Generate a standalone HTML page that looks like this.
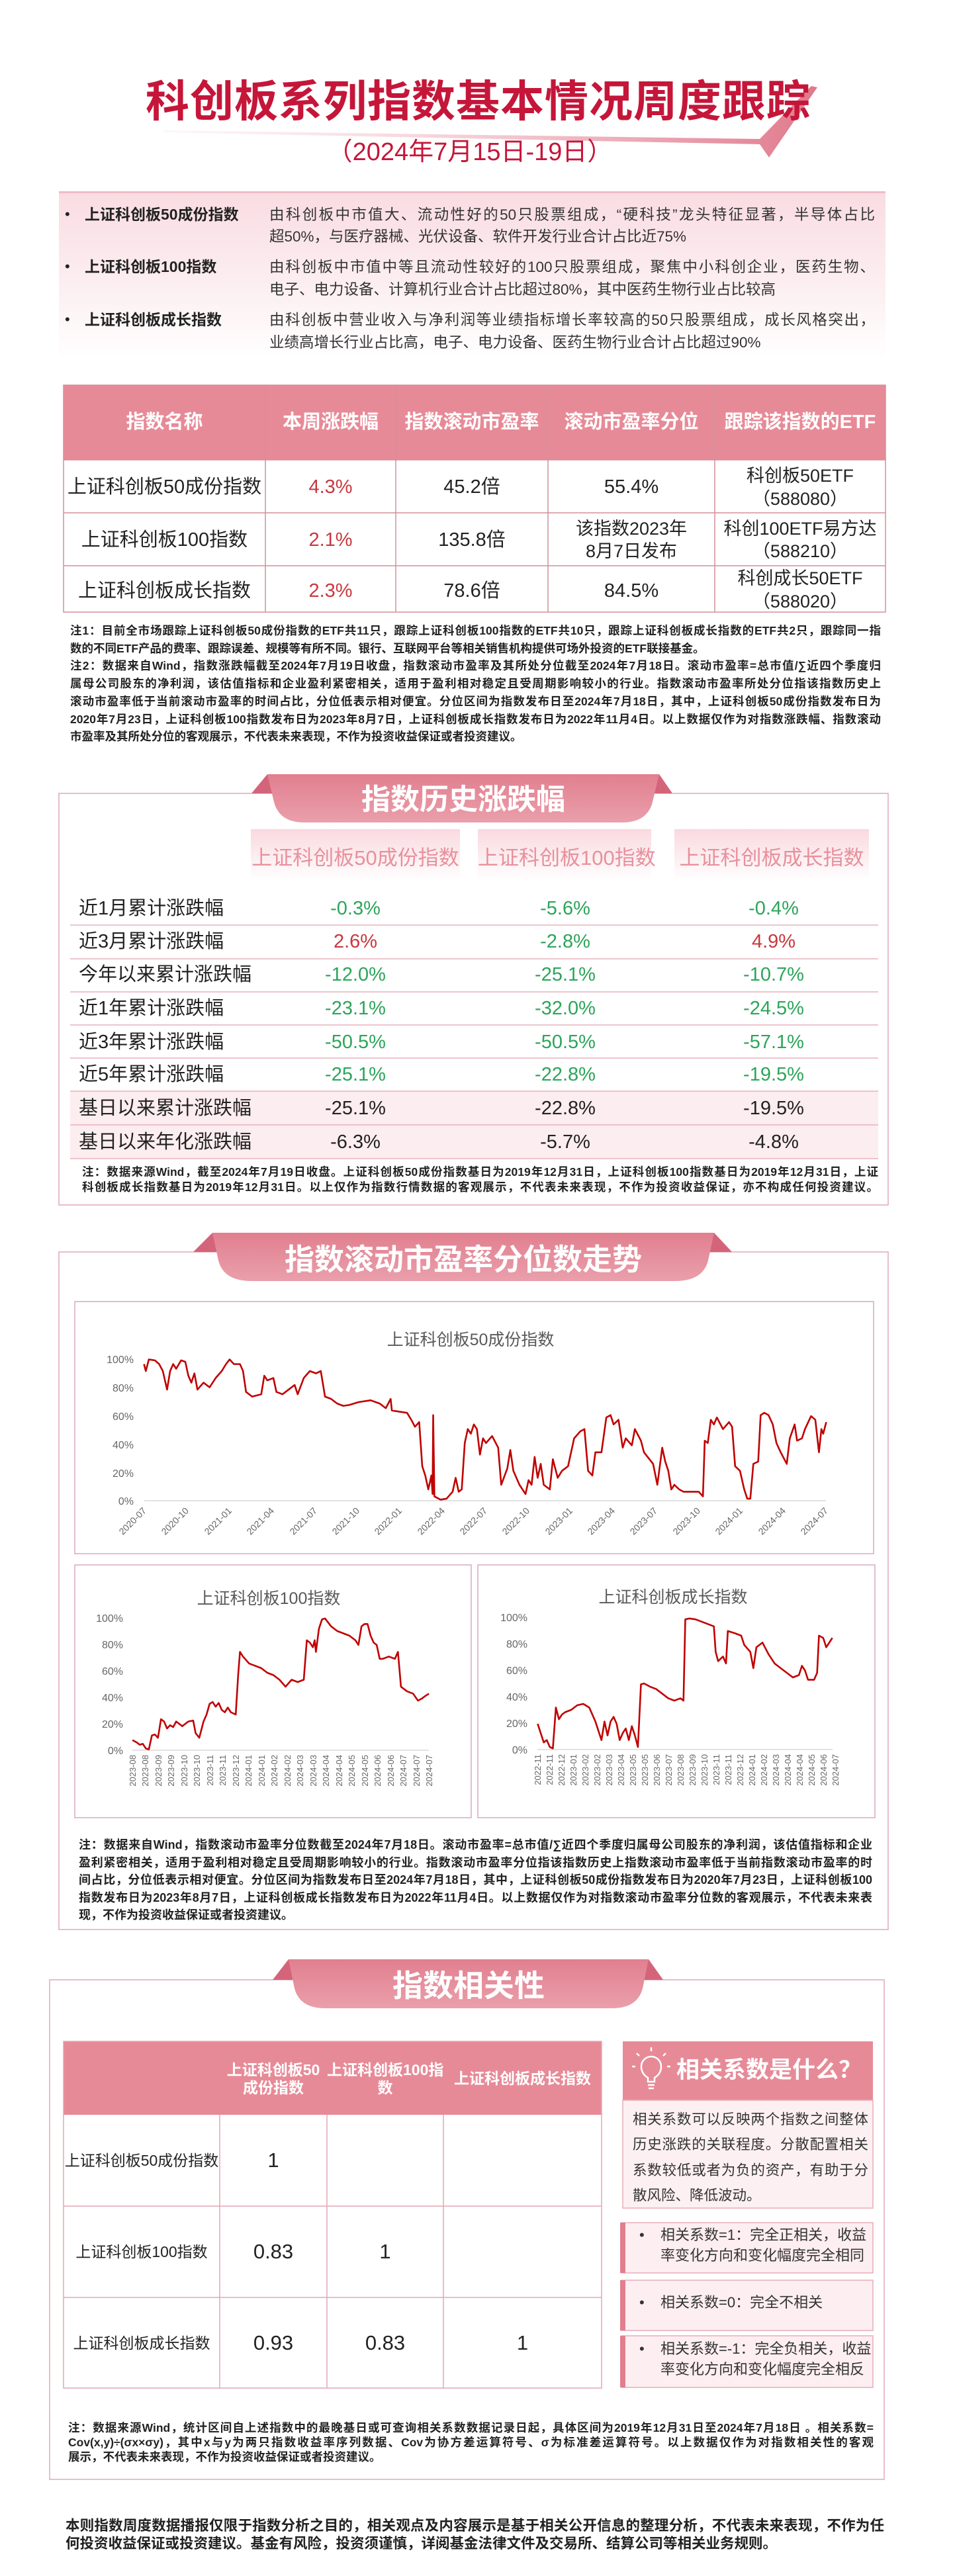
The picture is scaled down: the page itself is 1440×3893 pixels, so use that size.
<!DOCTYPE html>
<html><head><meta charset="utf-8">
<style>
*{margin:0;padding:0;box-sizing:border-box}
body{width:1440px;height:3893px;position:relative;background:#fff;font-family:"Liberation Sans","Noto Sans CJK SC",sans-serif;color:#222;overflow:hidden}
.a{position:absolute;white-space:nowrap}
.c{text-align:center}
.j{text-align:justify;text-align-last:justify}
.n{font-weight:bold;color:#222}
svg{position:absolute;left:0;top:0}
</style></head><body>
<svg width="1440" height="3893" viewBox="0 0 1440 3893">
<defs>
<linearGradient id="sw" x1="0" x2="1"><stop offset="0" stop-color="#f6d3da" stop-opacity="0.2"/><stop offset="1" stop-color="#e0788b"/></linearGradient>
<linearGradient id="band" x1="0" y1="0" x2="0" y2="1"><stop offset="0" stop-color="#f9dce2"/><stop offset="0.6" stop-color="#fcf0f2"/><stop offset="1" stop-color="#fff"/></linearGradient>
<linearGradient id="tab" x1="0" y1="0" x2="0" y2="1"><stop offset="0" stop-color="#e17f8f"/><stop offset="1" stop-color="#ea9fab"/></linearGradient>
<linearGradient id="ch" x1="0" y1="0" x2="0" y2="1"><stop offset="0" stop-color="#f9d9df"/><stop offset="1" stop-color="#fff"/></linearGradient>
</defs>
<polygon points="248,197 1148,210 1226,130 1235,132 1162,238 1148,218 248,200" fill="url(#sw)"/>
<rect x="89" y="290" width="1249" height="252" fill="url(#band)"/>
<rect x="89" y="289" width="1249" height="3" fill="#f0bcc6"/>
<rect x="96" y="582" width="1242" height="113" fill="#e78a97"/>
<g stroke="#d48f9b" stroke-width="1.5" fill="none">
<rect x="96" y="582" width="1242" height="343"/>
<line x1="96" y1="775" x2="1338" y2="775"/><line x1="96" y1="855" x2="1338" y2="855"/>
<line x1="96" y1="695" x2="1338" y2="695"/>
<line x1="401" y1="582" x2="401" y2="925"/><line x1="598" y1="582" x2="598" y2="925"/><line x1="828" y1="582" x2="828" y2="925"/><line x1="1080" y1="582" x2="1080" y2="925"/>
</g>
<rect x="89" y="1199" width="1253" height="622" fill="none" stroke="#e2a9b6" stroke-width="1.5"/>
<polygon points="380,1199 404,1170 412,1199" fill="#d4647a"/><polygon points="996,1170 1016,1199 988,1199" fill="#d4647a"/>
<path d="M404,1170 H996 L986,1212 Q978,1243 940,1243 H460 Q422,1243 414,1212 Z" fill="url(#tab)"/>
<rect x="379" y="1253" width="316" height="78" fill="url(#ch)"/>
<rect x="722" y="1253" width="262" height="78" fill="url(#ch)"/>
<rect x="1019" y="1253" width="294" height="78" fill="url(#ch)"/>
<rect x="106" y="1649" width="1221" height="102" fill="#fcedf0"/>
<g stroke="#e6b2bc" stroke-width="1.5">
<line x1="106" y1="1398" x2="1327" y2="1398"/><line x1="106" y1="1449" x2="1327" y2="1449"/><line x1="106" y1="1499" x2="1327" y2="1499"/><line x1="106" y1="1549" x2="1327" y2="1549"/><line x1="106" y1="1599" x2="1327" y2="1599"/><line x1="106" y1="1649" x2="1327" y2="1649"/><line x1="106" y1="1700" x2="1327" y2="1700"/><line x1="106" y1="1751" x2="1327" y2="1751"/>
</g>
<rect x="89" y="1892" width="1253" height="1024" fill="none" stroke="#e2a9b6" stroke-width="1.5"/>
<polygon points="292,1892 321,1863 329,1892" fill="#d4647a"/><polygon points="1079,1863 1106,1892 1071,1892" fill="#d4647a"/>
<path d="M321,1863 H1079 L1070,1905 Q1062,1936 1020,1936 H380 Q338,1936 330,1905 Z" fill="url(#tab)"/>
<g fill="none" stroke="#d9a8c2" stroke-width="1.5">
<rect x="113" y="1967" width="1207" height="381"/>
<rect x="113" y="2365" width="599" height="382"/>
<rect x="722" y="2365" width="600" height="382"/>
</g>
<g stroke="#d0d0d0" stroke-width="1.2">
<line x1="218" y1="2268" x2="1248" y2="2268"/>
<line x1="200" y1="2645" x2="648" y2="2645"/>
<line x1="812" y1="2644" x2="1258" y2="2644"/>
</g>
<g transform="matrix(0.918 0 0 0.7015 0 1830)" fill="none" stroke="#c00000" stroke-width="2.6" stroke-linejoin="round">
<polyline vector-effect="non-scaling-stroke" points="237,330 240,345 245,320 255,322 262,330 268,345 275,385 280,345 285,330 290,340 298,322 305,325 310,355 315,370 320,350 325,385 335,370 345,380 355,360 365,345 372,330 378,320 385,330 395,330 400,345 405,390 415,400 430,395 435,355 440,365 450,360 455,390 465,395 475,385 485,375 490,395 500,360 510,345 520,350 528,345 535,400 545,405 555,415 565,420 575,418 590,412 610,408 625,415 635,425 643,405 645,430 655,432 670,435 677,450 683,465 690,455 695,550 700,570 705,600 710,570 712,610 713,440 715,615 725,622 735,620 745,605 750,575 755,605 760,600 765,500 770,470 775,480 780,460 785,470 790,525 795,490 800,500 810,485 820,510 825,590 835,555 840,515 845,560 855,590 865,610 870,580 875,590 880,530 885,575 890,545 895,590 905,600 910,535 918,575 925,560 935,550 945,490 955,475 962,470 968,560 975,570 980,520 990,520 998,445 1005,440 1010,460 1018,450 1025,510 1030,490 1040,505 1045,470 1055,495 1060,520 1075,545 1082,590 1090,510 1095,540 1100,560 1105,600 1110,590 1118,600 1125,605 1140,605 1150,605 1157,615 1160,495 1165,500 1170,450 1175,460 1180,445 1190,470 1200,455 1205,465 1210,550 1218,560 1225,600 1230,620 1235,620 1240,545 1248,540 1252,440 1258,435 1265,440 1272,460 1278,500 1285,520 1295,545 1300,490 1308,460 1312,495 1320,490 1325,470 1335,442 1342,450 1348,520 1352,470 1355,480 1360,455"/>
<polyline vector-effect="non-scaling-stroke" points="218,1140 225,1145 230,1150 235,1148 240,1158 245,1160 250,1130 255,1128 260,1135 265,1095 270,1100 275,1115 280,1108 285,1112 290,1100 300,1110 310,1100 318,1098 322,1125 328,1135 335,1100 340,1085 345,1062 350,1058 355,1068 360,1060 365,1075 370,1080 375,1070 380,1080 388,1085 392,1000 395,950 400,960 410,975 420,980 430,985 440,995 450,1000 460,1010 470,1025 480,1010 490,1015 500,1010 505,925 510,930 515,940 518,925 520,950 525,900 530,880 535,878 545,895 555,905 565,910 575,915 585,925 590,935 595,895 600,890 605,890 610,915 615,930 620,935 625,965 630,965 640,960 650,965 655,950 660,1025 670,1035 680,1040 688,1055 695,1050 700,1045 706,1040"/>
<polyline vector-effect="non-scaling-stroke" points="885,1105 890,1125 895,1145 900,1140 905,1155 910,1158 915,1070 920,1095 925,1085 930,1080 940,1075 950,1065 960,1062 970,1070 975,1085 980,1100 985,1120 990,1140 995,1100 1000,1130 1005,1100 1010,1090 1015,1105 1020,1140 1025,1125 1030,1115 1035,1140 1040,1110 1045,1130 1050,1155 1055,1020 1060,1018 1070,1025 1080,1030 1090,1040 1100,1050 1110,1055 1120,1050 1125,1055 1128,880 1135,878 1145,880 1155,885 1165,890 1175,895 1178,950 1182,970 1190,960 1195,975 1198,905 1210,910 1220,915 1225,935 1235,950 1240,985 1245,940 1255,930 1265,955 1275,975 1285,985 1295,995 1305,1005 1315,1000 1320,980 1325,990 1330,1010 1340,1010 1345,995 1348,915 1355,920 1360,940 1365,930 1370,920"/>
</g>
<g font-family="Liberation Sans" font-size="14" fill="#666">
<g text-anchor="end">
<text transform="translate(222,2284) rotate(-45)">2020-07</text><text transform="translate(286,2284) rotate(-45)">2020-10</text><text transform="translate(351,2284) rotate(-45)">2021-01</text><text transform="translate(415,2284) rotate(-45)">2021-04</text><text transform="translate(480,2284) rotate(-45)">2021-07</text><text transform="translate(544,2284) rotate(-45)">2021-10</text><text transform="translate(608,2284) rotate(-45)">2022-01</text><text transform="translate(673,2284) rotate(-45)">2022-04</text><text transform="translate(737,2284) rotate(-45)">2022-07</text><text transform="translate(801,2284) rotate(-45)">2022-10</text><text transform="translate(866,2284) rotate(-45)">2023-01</text><text transform="translate(930,2284) rotate(-45)">2023-04</text><text transform="translate(994,2284) rotate(-45)">2023-07</text><text transform="translate(1059,2284) rotate(-45)">2023-10</text><text transform="translate(1123,2284) rotate(-45)">2024-01</text><text transform="translate(1188,2284) rotate(-45)">2024-04</text><text transform="translate(1252,2284) rotate(-45)">2024-07</text>
</g>
<g text-anchor="end" font-size="16">
<text x="202" y="2060">100%</text><text x="202" y="2103">80%</text><text x="202" y="2146">60%</text><text x="202" y="2189">40%</text><text x="202" y="2232">20%</text><text x="202" y="2274">0%</text>
<text x="186" y="2451">100%</text><text x="186" y="2491">80%</text><text x="186" y="2531">60%</text><text x="186" y="2571">40%</text><text x="186" y="2611">20%</text><text x="186" y="2651">0%</text>
<text x="797" y="2450">100%</text><text x="797" y="2490">80%</text><text x="797" y="2530">60%</text><text x="797" y="2570">40%</text><text x="797" y="2610">20%</text><text x="797" y="2650">0%</text>
</g>
<g text-anchor="end" font-size="13">
<text transform="translate(205,2652) rotate(-90)">2023-08</text><text transform="translate(224,2652) rotate(-90)">2023-08</text><text transform="translate(244,2652) rotate(-90)">2023-09</text><text transform="translate(263,2652) rotate(-90)">2023-09</text><text transform="translate(283,2652) rotate(-90)">2023-10</text><text transform="translate(302,2652) rotate(-90)">2023-10</text><text transform="translate(322,2652) rotate(-90)">2023-11</text><text transform="translate(341,2652) rotate(-90)">2023-11</text><text transform="translate(361,2652) rotate(-90)">2023-12</text><text transform="translate(380,2652) rotate(-90)">2024-01</text><text transform="translate(400,2652) rotate(-90)">2024-01</text><text transform="translate(419,2652) rotate(-90)">2024-02</text><text transform="translate(439,2652) rotate(-90)">2024-02</text><text transform="translate(458,2652) rotate(-90)">2024-03</text><text transform="translate(478,2652) rotate(-90)">2024-03</text><text transform="translate(497,2652) rotate(-90)">2024-04</text><text transform="translate(517,2652) rotate(-90)">2024-04</text><text transform="translate(536,2652) rotate(-90)">2024-05</text><text transform="translate(556,2652) rotate(-90)">2024-05</text><text transform="translate(575,2652) rotate(-90)">2024-06</text><text transform="translate(595,2652) rotate(-90)">2024-06</text><text transform="translate(614,2652) rotate(-90)">2024-07</text><text transform="translate(634,2652) rotate(-90)">2024-07</text><text transform="translate(653,2652) rotate(-90)">2024-07</text>
<text transform="translate(817,2651) rotate(-90)">2022-11</text><text transform="translate(835,2651) rotate(-90)">2022-11</text><text transform="translate(853,2651) rotate(-90)">2022-12</text><text transform="translate(871,2651) rotate(-90)">2023-01</text><text transform="translate(889,2651) rotate(-90)">2023-02</text><text transform="translate(907,2651) rotate(-90)">2023-02</text><text transform="translate(925,2651) rotate(-90)">2023-03</text><text transform="translate(943,2651) rotate(-90)">2023-04</text><text transform="translate(961,2651) rotate(-90)">2023-05</text><text transform="translate(979,2651) rotate(-90)">2023-05</text><text transform="translate(997,2651) rotate(-90)">2023-06</text><text transform="translate(1015,2651) rotate(-90)">2023-07</text><text transform="translate(1033,2651) rotate(-90)">2023-08</text><text transform="translate(1051,2651) rotate(-90)">2023-09</text><text transform="translate(1069,2651) rotate(-90)">2023-10</text><text transform="translate(1087,2651) rotate(-90)">2023-11</text><text transform="translate(1105,2651) rotate(-90)">2023-11</text><text transform="translate(1123,2651) rotate(-90)">2023-12</text><text transform="translate(1141,2651) rotate(-90)">2024-01</text><text transform="translate(1159,2651) rotate(-90)">2024-02</text><text transform="translate(1177,2651) rotate(-90)">2024-03</text><text transform="translate(1195,2651) rotate(-90)">2024-04</text><text transform="translate(1213,2651) rotate(-90)">2024-04</text><text transform="translate(1231,2651) rotate(-90)">2024-05</text><text transform="translate(1249,2651) rotate(-90)">2024-06</text><text transform="translate(1267,2651) rotate(-90)">2024-07</text>
</g>
</g>
<rect x="75" y="2992" width="1261" height="755" fill="none" stroke="#e2a9b6" stroke-width="1.5"/>
<polygon points="412,2992 436,2961 444,2992" fill="#d4647a"/><polygon points="980,2961 1002,2992 972,2992" fill="#d4647a"/>
<path d="M436,2961 H980 L971,3005 Q963,3035 925,3035 H491 Q453,3035 445,3005 Z" fill="url(#tab)"/>
<rect x="96" y="3085" width="813" height="111" fill="#e78a97"/>
<g stroke="#e3a6b3" stroke-width="1.5" fill="none">
<rect x="96" y="3085" width="813" height="524"/>
<line x1="96" y1="3334" x2="909" y2="3334"/><line x1="96" y1="3472" x2="909" y2="3472"/>
<line x1="332" y1="3196" x2="332" y2="3609"/><line x1="494" y1="3196" x2="494" y2="3609"/><line x1="670" y1="3196" x2="670" y2="3609"/>
</g>
<rect x="941" y="3085" width="378" height="89" fill="#e78a97"/>
<rect x="941" y="3174" width="378" height="163" fill="#fdf0f2" stroke="#e7adb8" stroke-width="1.5"/>
<rect x="939" y="3359" width="380" height="76" fill="#fdeef1" stroke="#e7adb8" stroke-width="1.5"/>
<rect x="939" y="3446" width="380" height="76" fill="#fdeef1" stroke="#e7adb8" stroke-width="1.5"/>
<rect x="939" y="3530" width="380" height="78" fill="#fdeef1" stroke="#e7adb8" stroke-width="1.5"/>
<rect x="937" y="3359" width="8" height="76" fill="#e17f8f"/><rect x="937" y="3446" width="8" height="76" fill="#e17f8f"/><rect x="937" y="3530" width="8" height="78" fill="#e17f8f"/>
<g stroke="#fff" stroke-width="2.5" fill="none">
<path d="M979,3146 v-6 q-10,-6 -10,-17 a15,15 0 1 1 30,0 q0,11 -10,17 v6 z"/>
<line x1="979" y1="3151" x2="989" y2="3151"/><line x1="980" y1="3156" x2="988" y2="3156"/>
<line x1="984" y1="3100" x2="984" y2="3094"/><line x1="966" y1="3107" x2="962" y2="3103"/><line x1="1002" y1="3107" x2="1006" y2="3103"/><line x1="960" y1="3123" x2="955" y2="3123"/><line x1="1008" y1="3123" x2="1013" y2="3123"/>
</g>
</svg>

<div class="a c" style="left:220px;width:1000px;top:110px;font-size:66px;line-height:86px;font-weight:bold;color:#c5163a;letter-spacing:1px">科创板系列指数基本情况周度跟踪</div>
<div class="a c" style="left:460px;width:500px;top:205px;font-size:38px;line-height:50px;color:#c5163a">（2024年7月15日-19日）</div>

<div class="a" style="left:98px;top:308px;font-size:22px;line-height:32px">•</div>
<div class="a" style="left:98px;top:387px;font-size:22px;line-height:32px">•</div>
<div class="a" style="left:98px;top:467px;font-size:22px;line-height:32px">•</div>
<div class="a" style="left:128px;top:308px;font-size:23px;line-height:32px;font-weight:bold">上证科创板50成份指数</div>
<div class="a" style="left:128px;top:387px;font-size:23px;line-height:32px;font-weight:bold">上证科创板100指数</div>
<div class="a" style="left:128px;top:467px;font-size:23px;line-height:32px;font-weight:bold">上证科创板成长指数</div>
<div style="position:absolute;left:407px;top:308px;width:915px;font-size:22.5px;line-height:33px;color:#333">
<div class="j">由科创板中市值大、流动性好的50只股票组成，“硬科技”龙头特征显著，半导体占比</div><div>超50%，与医疗器械、光伏设备、软件开发行业合计占比近75%</div></div>
<div style="position:absolute;left:407px;top:387px;width:915px;font-size:22.5px;line-height:34px;color:#333">
<div class="j">由科创板中市值中等且流动性较好的100只股票组成，聚焦中小科创企业，医药生物、</div><div>电子、电力设备、计算机行业合计占比超过80%，其中医药生物行业占比较高</div></div>
<div style="position:absolute;left:407px;top:467px;width:915px;font-size:22.5px;line-height:34px;color:#333">
<div class="j">由科创板中营业收入与净利润等业绩指标增长率较高的50只股票组成，成长风格突出，</div><div>业绩高增长行业占比高，电子、电力设备、医药生物行业合计占比超过90%</div></div>

<div style="position:absolute;left:96px;top:582px;width:1242px;height:113px;font-size:29px;font-weight:bold;color:#fff;line-height:113px">
<div class="a c" style="left:0;width:305px">指数名称</div><div class="a c" style="left:305px;width:197px">本周涨跌幅</div><div class="a c" style="left:502px;width:230px">指数滚动市盈率</div><div class="a c" style="left:732px;width:252px">滚动市盈率分位</div><div class="a c" style="left:984px;width:258px">跟踪该指数的ETF</div></div>
<div style="position:absolute;left:96px;top:695px;width:1242px;font-size:29px;color:#222">
<div class="a c" style="left:0;width:305px;top:23px;line-height:36px">上证科创板50成份指数</div>
<div class="a c" style="left:305px;width:197px;top:23px;line-height:36px;color:#c8383e">4.3%</div>
<div class="a c" style="left:502px;width:230px;top:23px;line-height:36px">45.2倍</div>
<div class="a c" style="left:732px;width:252px;top:23px;line-height:36px">55.4%</div>
<div class="a c" style="left:984px;width:258px;top:7px;line-height:35px;font-size:27px">科创板50ETF<br>（588080）</div>
<div class="a c" style="left:0;width:305px;top:103px;line-height:36px">上证科创板100指数</div>
<div class="a c" style="left:305px;width:197px;top:103px;line-height:36px;color:#c8383e">2.1%</div>
<div class="a c" style="left:502px;width:230px;top:103px;line-height:36px">135.8倍</div>
<div class="a c" style="left:732px;width:252px;top:87px;line-height:34px;font-size:27px">该指数2023年<br>8月7日发布</div>
<div class="a c" style="left:984px;width:258px;top:87px;line-height:34px;font-size:27px">科创100ETF易方达<br>（588210）</div>
<div class="a c" style="left:0;width:305px;top:180px;line-height:36px">上证科创板成长指数</div>
<div class="a c" style="left:305px;width:197px;top:180px;line-height:36px;color:#c8383e">2.3%</div>
<div class="a c" style="left:502px;width:230px;top:180px;line-height:36px">78.6倍</div>
<div class="a c" style="left:732px;width:252px;top:180px;line-height:36px">84.5%</div>
<div class="a c" style="left:984px;width:258px;top:162px;line-height:35px;font-size:27px">科创成长50ETF<br>（588020）</div>
</div>

<div class="n" style="position:absolute;left:106px;top:940px;width:1225px;font-size:17.5px;line-height:26.7px">
<div class="j">注1：目前全市场跟踪上证科创板50成份指数的ETF共11只，跟踪上证科创板100指数的ETF共10只，跟踪上证科创板成长指数的ETF共2只，跟踪同一指</div>
<div>数的不同ETF产品的费率、跟踪误差、规模等有所不同。银行、互联网平台等相关销售机构提供可场外投资的ETF联接基金。</div>
<div class="j">注2：数据来自Wind，指数涨跌幅截至2024年7月19日收盘，指数滚动市盈率及其所处分位截至2024年7月18日。滚动市盈率=总市值/∑近四个季度归</div>
<div class="j">属母公司股东的净利润，该估值指标和企业盈利紧密相关，适用于盈利相对稳定且受周期影响较小的行业。指数滚动市盈率所处分位指该指数历史上</div>
<div class="j">滚动市盈率低于当前滚动市盈率的时间占比，分位低表示相对便宜。分位区间为指数发布日至2024年7月18日，其中，上证科创板50成份指数发布日为</div>
<div class="j">2020年7月23日，上证科创板100指数发布日为2023年8月7日，上证科创板成长指数发布日为2022年11月4日。以上数据仅作为对指数涨跌幅、指数滚动</div>
<div>市盈率及其所处分位的客观展示，不代表未来表现，不作为投资收益保证或者投资建议。</div>
</div>

<div class="a c" style="left:404px;width:592px;top:1180px;font-size:44px;line-height:58px;font-weight:bold;color:#fff">指数历史涨跌幅</div>
<div class="a c" style="left:379px;width:316px;top:1275px;font-size:31px;line-height:44px;color:#e8909c">上证科创板50成份指数</div>
<div class="a c" style="left:722px;width:262px;top:1275px;font-size:31px;line-height:44px;color:#e8909c">上证科创板100指数</div>
<div class="a c" style="left:1019px;width:294px;top:1275px;font-size:31px;line-height:44px;color:#e8909c">上证科创板成长指数</div>
<div style="position:absolute;left:0;top:0;font-size:29px;line-height:40px">
<div class="a" style="left:119px;top:1353px">近1月累计涨跌幅</div>
<div class="a" style="left:119px;top:1403px">近3月累计涨跌幅</div>
<div class="a" style="left:119px;top:1453px">今年以来累计涨跌幅</div>
<div class="a" style="left:119px;top:1504px">近1年累计涨跌幅</div>
<div class="a" style="left:119px;top:1555px">近3年累计涨跌幅</div>
<div class="a" style="left:119px;top:1604px">近5年累计涨跌幅</div>
<div class="a" style="left:119px;top:1655px">基日以来累计涨跌幅</div>
<div class="a" style="left:119px;top:1706px">基日以来年化涨跌幅</div>
</div>
<div style="position:absolute;left:0;top:0;font-size:29px;line-height:40px;color:#2ca55a">
<div class="a c" style="left:437px;width:200px;top:1353px">-0.3%</div><div class="a c" style="left:754px;width:200px;top:1353px">-5.6%</div><div class="a c" style="left:1069px;width:200px;top:1353px">-0.4%</div>
<div class="a c" style="left:437px;width:200px;top:1403px;color:#c8383e">2.6%</div><div class="a c" style="left:754px;width:200px;top:1403px">-2.8%</div><div class="a c" style="left:1069px;width:200px;top:1403px;color:#c8383e">4.9%</div>
<div class="a c" style="left:437px;width:200px;top:1453px">-12.0%</div><div class="a c" style="left:754px;width:200px;top:1453px">-25.1%</div><div class="a c" style="left:1069px;width:200px;top:1453px">-10.7%</div>
<div class="a c" style="left:437px;width:200px;top:1504px">-23.1%</div><div class="a c" style="left:754px;width:200px;top:1504px">-32.0%</div><div class="a c" style="left:1069px;width:200px;top:1504px">-24.5%</div>
<div class="a c" style="left:437px;width:200px;top:1555px">-50.5%</div><div class="a c" style="left:754px;width:200px;top:1555px">-50.5%</div><div class="a c" style="left:1069px;width:200px;top:1555px">-57.1%</div>
<div class="a c" style="left:437px;width:200px;top:1604px">-25.1%</div><div class="a c" style="left:754px;width:200px;top:1604px">-22.8%</div><div class="a c" style="left:1069px;width:200px;top:1604px">-19.5%</div>
<div class="a c" style="left:437px;width:200px;top:1655px;color:#222">-25.1%</div><div class="a c" style="left:754px;width:200px;top:1655px;color:#222">-22.8%</div><div class="a c" style="left:1069px;width:200px;top:1655px;color:#222">-19.5%</div>
<div class="a c" style="left:437px;width:200px;top:1706px;color:#222">-6.3%</div><div class="a c" style="left:754px;width:200px;top:1706px;color:#222">-5.7%</div><div class="a c" style="left:1069px;width:200px;top:1706px;color:#222">-4.8%</div>
</div>
<div class="n" style="position:absolute;left:124px;top:1760px;width:1203px;font-size:17.5px;line-height:23px">
<div class="j">注：数据来源Wind，截至2024年7月19日收盘。上证科创板50成份指数基日为2019年12月31日，上证科创板100指数基日为2019年12月31日，上证</div>
<div class="j">科创板成长指数基日为2019年12月31日。以上仅作为指数行情数据的客观展示，不代表未来表现，不作为投资收益保证，亦不构成任何投资建议。</div>
</div>

<div class="a c" style="left:321px;width:758px;top:1874px;font-size:45px;line-height:60px;font-weight:bold;color:#fff">指数滚动市盈率分位数走势</div>
<div class="a c" style="left:511px;width:400px;top:2008px;font-size:25px;line-height:34px;color:#595959">上证科创板50成份指数</div>
<div class="a c" style="left:256px;width:300px;top:2399px;font-size:25px;line-height:34px;color:#595959">上证科创板100指数</div>
<div class="a c" style="left:867px;width:300px;top:2397px;font-size:25px;line-height:34px;color:#595959">上证科创板成长指数</div>
<div class="n" style="position:absolute;left:119px;top:2775px;width:1199px;font-size:18px;line-height:26.6px">
<div class="j">注：数据来自Wind，指数滚动市盈率分位数截至2024年7月18日。滚动市盈率=总市值/∑近四个季度归属母公司股东的净利润，该估值指标和企业</div>
<div class="j">盈利紧密相关，适用于盈利相对稳定且受周期影响较小的行业。指数滚动市盈率分位指该指数历史上指数滚动市盈率低于当前指数滚动市盈率的时</div>
<div class="j">间占比，分位低表示相对便宜。分位区间为指数发布日至2024年7月18日，其中，上证科创板50成份指数发布日为2020年7月23日，上证科创板100</div>
<div class="j">指数发布日为2023年8月7日，上证科创板成长指数发布日为2022年11月4日。以上数据仅作为对指数滚动市盈率分位数的客观展示，不代表未来表</div>
<div>现，不作为投资收益保证或者投资建议。</div>
</div>

<div class="a c" style="left:436px;width:544px;top:2972px;font-size:46px;line-height:58px;font-weight:bold;color:#fff">指数相关性</div>
<div style="position:absolute;left:0;top:0;font-size:23px;font-weight:bold;color:#fff;line-height:27px">
<div class="a c" style="left:332px;width:162px;top:3115px">上证科创板50<br>成份指数</div>
<div class="a c" style="left:494px;width:176px;top:3115px">上证科创板100指<br>数</div>
<div class="a c" style="left:670px;width:239px;top:3128px">上证科创板成长指数</div>
</div>
<div style="position:absolute;left:0;top:0;font-size:23px;line-height:34px">
<div class="a c" style="left:96px;width:236px;top:3248px">上证科创板50成份指数</div>
<div class="a c" style="left:96px;width:236px;top:3386px">上证科创板100指数</div>
<div class="a c" style="left:96px;width:236px;top:3524px">上证科创板成长指数</div>
</div>
<div style="position:absolute;left:0;top:0;font-size:31px;line-height:40px">
<div class="a c" style="left:332px;width:162px;top:3245px">1</div>
<div class="a c" style="left:332px;width:162px;top:3383px">0.83</div><div class="a c" style="left:494px;width:176px;top:3383px">1</div>
<div class="a c" style="left:332px;width:162px;top:3521px">0.93</div><div class="a c" style="left:494px;width:176px;top:3521px">0.83</div><div class="a c" style="left:670px;width:239px;top:3521px">1</div>
</div>
<div class="a" style="left:1022px;top:3106px;font-size:35px;line-height:46px;font-weight:bold;color:#fff">相关系数是什么？</div>
<div style="position:absolute;left:956px;top:3184px;width:356px;font-size:21.5px;line-height:38.3px;color:#333">
<div class="j" style="white-space:nowrap">相关系数可以反映两个指数之间整体</div><div class="j" style="white-space:nowrap">历史涨跌的关联程度。分散配置相关</div><div class="j" style="white-space:nowrap">系数较低或者为负的资产，有助于分</div><div style="white-space:nowrap">散风险、降低波动。</div></div>
<div style="position:absolute;left:0;top:0;font-size:22px;line-height:31px;color:#333">
<div class="a" style="left:966px;top:3362px">•</div><div class="a" style="left:998px;top:3362px">相关系数=1：完全正相关，收益<br>率变化方向和变化幅度完全相同</div>
<div class="a" style="left:966px;top:3464px">•</div><div class="a" style="left:998px;top:3464px">相关系数=0：完全不相关</div>
<div class="a" style="left:966px;top:3534px">•</div><div class="a" style="left:998px;top:3534px">相关系数=-1：完全负相关，收益<br>率变化方向和变化幅度完全相反</div>
</div>
<div class="n" style="position:absolute;left:103px;top:3658px;width:1217px;font-size:17.5px;line-height:22px">
<div class="j">注：数据来源Wind，统计区间自上述指数中的最晚基日或可查询相关系数数据记录日起，具体区间为2019年12月31日至2024年7月18日 。相关系数=</div>
<div class="j">Cov(x,y)÷(σx×σy)，其中x与y为两只指数收益率序列数据、Cov为协方差运算符号、σ为标准差运算符号。以上数据仅作为对指数相关性的客观</div>
<div>展示，不代表未来表现，不作为投资收益保证或者投资建议。</div>
</div>

<div class="n" style="position:absolute;left:99px;top:3804px;width:1237px;font-size:21.5px;line-height:27px">
<div class="j">本则指数周度数据播报仅限于指数分析之目的，相关观点及内容展示是基于相关公开信息的整理分析，不代表未来表现，不作为任</div>
<div>何投资收益保证或投资建议。基金有风险，投资须谨慎，详阅基金法律文件及交易所、结算公司等相关业务规则。</div>
</div>
</body></html>
